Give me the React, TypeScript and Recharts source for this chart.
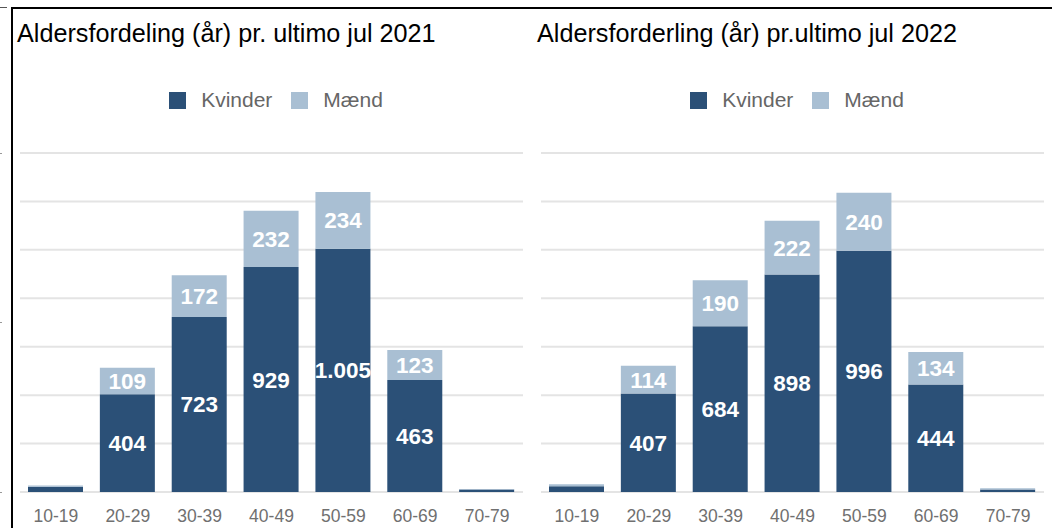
import React from 'react';
import { BarChart, Bar, XAxis, YAxis, CartesianGrid, LabelList, Legend } from 'recharts';

const categories = ['10-19', '20-29', '30-39', '40-49', '50-59', '60-69', '70-79'];
const kvinder2021 = [22, 404, 723, 929, 1005, 463, 10];
const maend2021 = [5, 109, 172, 232, 234, 123, 2];
const kvinder2022 = [24, 407, 684, 898, 996, 444, 10];
const maend2022 = [8, 114, 190, 222, 240, 134, 6];
const yTicks = [0, 200, 400, 600, 800, 1000, 1200, 1400];
const boundaryTicks = [0, 1, 2, 3, 4, 5, 6, 7];
const seriesNames = ['Kvinder', 'Mænd'];
const title2021 = 'Aldersfordeling (år) pr. ultimo jul 2021';
const title2022 = 'Aldersforderling (år) pr.ultimo jul 2022';

const DARK = '#2b5077';
const LIGHT = '#a9bfd3';
const FONT = '"Liberation Sans", Arial, sans-serif';

const fmt = (v: any) => {
  const n = Number(v);
  if (!isFinite(n) || n < 50) return '';
  return n.toLocaleString('da-DK');
};

const buildRows = (k: number[], m: number[]) =>
  categories.map((c, i) => ({ cat: c, kvinder: k[i], maend: m[i] }));

const LegendContent = () => (
  <div style={{ display: 'flex', justifyContent: 'center', alignItems: 'center', fontFamily: FONT, fontSize: 21, color: '#666', paddingLeft: 22 }}>
    {seriesNames.map((n, i) => (
      <div key={n} style={{ display: 'flex', alignItems: 'center', marginRight: i === 0 ? 19 : 0 }}>
        <div style={{ width: 17, height: 17, background: i === 0 ? DARK : LIGHT, marginRight: 15 }} />
        <span>{n}</span>
      </div>
    ))}
  </div>
);

type PanelProps = {
  left: number;
  width: number;
  marginLeft: number;
  marginRight: number;
  title: string;
  k: number[];
  m: number[];
};

const Panel = ({ left, width, marginLeft, marginRight, title, k, m }: PanelProps) => {
  const rows = buildRows(k, m);
  return (
    <div style={{ position: 'absolute', left, top: 0, width, height: 528 }}>
      <div style={{ position: 'absolute', left: 17, top: 19, fontFamily: FONT, fontSize: 25.2, color: '#000', whiteSpace: 'nowrap' }}>{title}</div>
      <BarChart
        width={width}
        height={528}
        data={rows}
        margin={{ top: 153, right: marginRight, left: marginLeft, bottom: 0 }}
        barSize={55}
      >
        <CartesianGrid vertical={false} stroke="#e4e4e4" strokeWidth={2} />
        <YAxis hide domain={[0, 1400]} ticks={yTicks} type="number" />
        <XAxis
          xAxisId="bounds"
          type="number"
          domain={[0, 7]}
          ticks={boundaryTicks}
          allowDataOverflow
          height={0}
          tick={false}
          tickSize={8}
          stroke="#bbbbbb"
          axisLine={{ stroke: '#bbbbbb', strokeWidth: 2 }}
          tickLine={{ stroke: '#bbbbbb', strokeWidth: 2 }}
        />
        <XAxis
          dataKey="cat"
          height={36}
          axisLine={false}
          tickLine={false}
          tickSize={8}
          tickMargin={10}
          interval={0}
          tick={{ fill: '#707070', fontSize: 17.5, fontFamily: FONT }}
        />
        <Legend
          verticalAlign="middle"
          align="center"
          layout="horizontal"
          wrapperStyle={{ top: 88, left: 0, width: width, height: 26 }}
          content={<LegendContent />}
        />
        <Bar dataKey="kvinder" name={seriesNames[0]} stackId="a" fill={DARK} isAnimationActive={false}>
          <LabelList dataKey="kvinder" position="center" formatter={fmt} fill="#fff" fontSize={22.5} fontWeight="bold" fontFamily={FONT} />
        </Bar>
        <Bar dataKey="maend" name={seriesNames[1]} stackId="a" fill={LIGHT} isAnimationActive={false}>
          <LabelList dataKey="maend" position="center" formatter={fmt} fill="#fff" fontSize={22.5} fontWeight="bold" fontFamily={FONT} />
        </Bar>
      </BarChart>
    </div>
  );
};

export default function App() {
  return (
    <div style={{ position: 'absolute', left: 0, top: 0, width: 1052, height: 528, background: '#fff', overflow: 'hidden' }}>
      <Panel left={0} width={530} marginLeft={20} marginRight={7} title={title2021} k={kvinder2021} m={maend2021} />
      <Panel left={520} width={532} marginLeft={21} marginRight={8} title={title2022} k={kvinder2022} m={maend2022} />
      {/* frame lines */}
      <div style={{ position: 'absolute', left: 12, top: 7, width: 1040, height: 2, background: '#000' }} />
      <div style={{ position: 'absolute', left: 11, top: 7, width: 2, height: 521, background: '#000' }} />
      <div style={{ position: 'absolute', left: 0, top: 7, width: 7, height: 1, background: '#555' }} />
      <div style={{ position: 'absolute', left: 0, top: 153, width: 2, height: 1, background: '#999' }} />
      <div style={{ position: 'absolute', left: 0, top: 322, width: 2, height: 1, background: '#999' }} />
      <div style={{ position: 'absolute', left: 0, top: 492, width: 2, height: 1, background: '#999' }} />
    </div>
  );
}
